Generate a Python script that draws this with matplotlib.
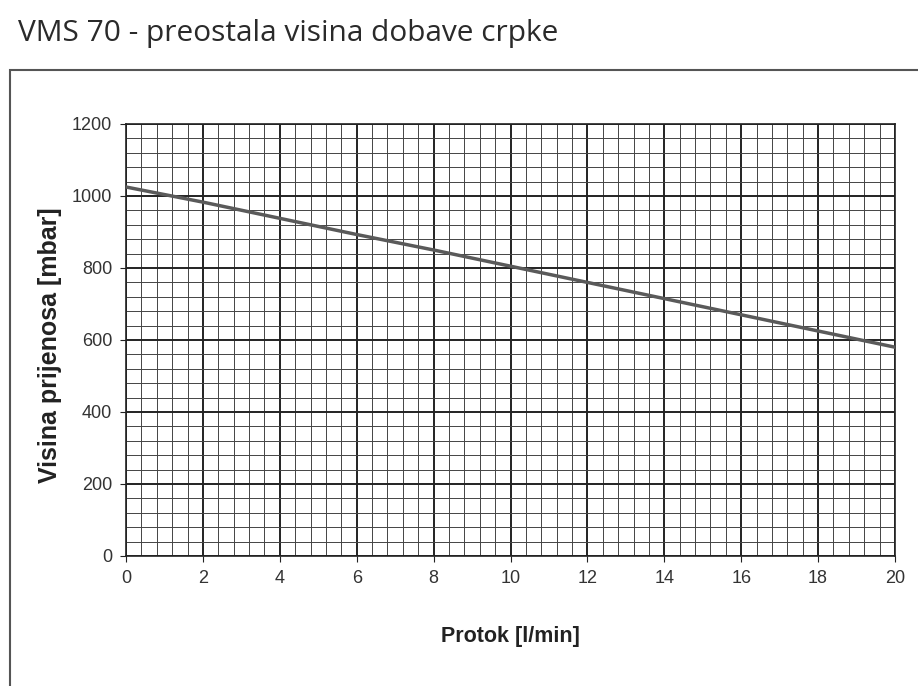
import matplotlib
matplotlib.use("Agg")
import matplotlib.pyplot as plt
from matplotlib.patches import Rectangle
from matplotlib.ticker import MultipleLocator

title = "VMS 70 - preostala visina dobave crpke"
x_label = "Protok [l/min]"
y_label = "Visina prijenosa [mbar]"
flow = [0, 2, 4, 6, 8, 10, 12, 14, 16, 18, 20]
head = [1025, 983, 938, 893, 850, 805, 760, 715, 670, 625, 580]
x_ticks = [0, 2, 4, 6, 8, 10, 12, 14, 16, 18, 20]
y_ticks = [0, 200, 400, 600, 800, 1000, 1200]

plt.rcParams['font.family'] = ['Liberation Sans', 'DejaVu Sans']

fig = plt.figure(figsize=(9.18, 6.86), dpi=100)
fig.patch.set_facecolor('white')

# outer frame
fig.patches.append(Rectangle((10/918, -0.05), 1.0, 1 - 70/686 + 0.05,
                             transform=fig.transFigure, fill=False,
                             edgecolor='#555555', linewidth=1.5))

fig.text(18/918, 1 - 34/686, title, fontsize=21.5, color='#2a2a2a',
         ha='left', va='center', family=['Open Sans', 'DejaVu Sans'])

ax = fig.add_axes([126/918, 1 - 556/686, (895 - 126)/918, (556 - 124)/686])
ax.plot(flow, head, color='#5a5a5a', linewidth=2.5, zorder=3)
ax.set_xlim(0, 20)
ax.set_ylim(0, 1200)
ax.set_xticks(x_ticks)
ax.set_yticks(y_ticks)
ax.xaxis.set_minor_locator(MultipleLocator(0.4))
ax.yaxis.set_minor_locator(MultipleLocator(40))
ax.grid(which='major', color='#222222', linewidth=1.4)
ax.grid(which='minor', color='#444444', linewidth=0.7)
ax.set_axisbelow(True)
for s in ax.spines.values():
    s.set_color('#222222')
    s.set_linewidth(1.2)
ax.tick_params(which='minor', length=0)
ax.tick_params(which='major', length=4, color='#222222', labelsize=13,
               labelcolor='#333333')
ax.tick_params(axis='x', pad=6)
ax.tick_params(axis='y', pad=6)
ax.set_xlabel(x_label, fontsize=15.5, fontweight='bold', color='#222222', labelpad=28)
ax.set_ylabel(y_label, fontsize=18, fontweight='bold', color='#222222')
ax.yaxis.set_label_coords(-0.083, 0.488)

fig.savefig("out.png", dpi=100)
